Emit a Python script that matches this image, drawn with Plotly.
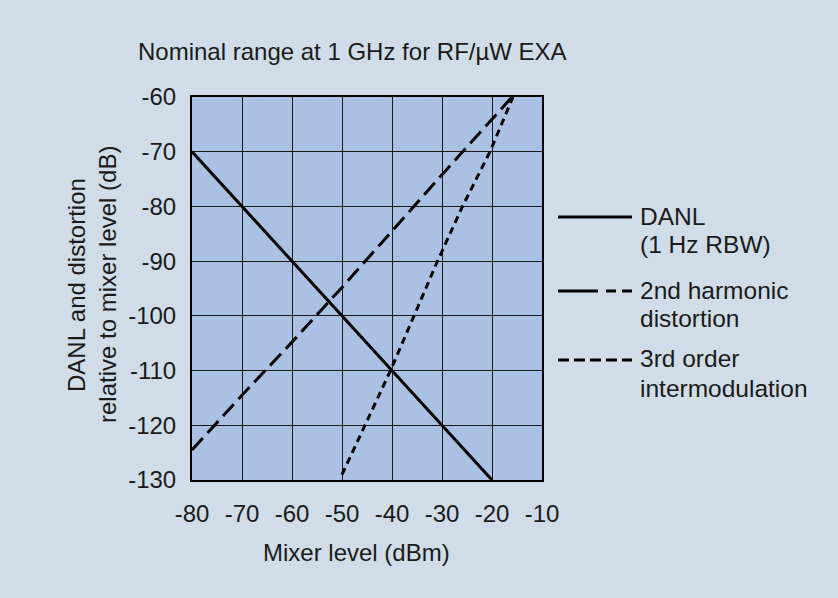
import plotly.graph_objects as go

# ---- data ----
x_tick_vals = [-80, -70, -60, -50, -40, -30, -20, -10]
y_tick_vals = [-60, -70, -80, -90, -100, -110, -120, -130]

danl_x = [-80, -20]
danl_y = [-70, -130]

harm2_x = [-80, -70, -60, -50, -40, -30, -16]
harm2_y = [-124.5, -114.5, -104.8, -94.8, -84.5, -74.2, -60]

im3_x = [-50, -40.3, -30.9, -25.9, -20.4, -15.8]
im3_y = [-129, -110, -90, -80, -70, -60]

legend_labels = [["DANL", "(1 Hz RBW)"],
                 ["2nd harmonic", "distortion"],
                 ["3rd order", "intermodulation"]]

title_text = "Nominal range at 1 GHz for RF/µW EXA"
x_title = "Mixer level (dBm)"
y_title = ["DANL and distortion", "relative to mixer level (dB)"]

# ---- layout geometry (pixels) ----
W, H = 838, 598
L, R, T, B = 192, 542, 97, 480
PW, PH = R - L, B - T

def px(x):
    return (x - L) / PW

def py(y):
    return (B - y) / PH

FONT = "Liberation Sans, Arial, sans-serif"
TXT = "#1a1a1a"
BG = "#D0DDE8"
LW = 3

fig = go.Figure()
fig.add_trace(go.Scatter(x=danl_x, y=danl_y, mode="lines",
                         line=dict(color="black", width=LW), showlegend=False))
fig.add_trace(go.Scatter(x=harm2_x, y=harm2_y, mode="lines",
                         line=dict(color="black", width=LW, dash="16px,7px"), showlegend=False))
fig.add_trace(go.Scatter(x=im3_x, y=im3_y, mode="lines",
                         line=dict(color="black", width=LW, dash="7px,5px"), showlegend=False))

shapes = []
# legend keys
shapes.append(dict(type="line", xref="paper", yref="paper",
                   x0=px(558), x1=px(632), y0=py(217), y1=py(217),
                   line=dict(color="black", width=LW)))
shapes.append(dict(type="line", xref="paper", yref="paper",
                   x0=px(558), x1=px(598), y0=py(291), y1=py(291),
                   line=dict(color="black", width=LW)))
shapes.append(dict(type="line", xref="paper", yref="paper",
                   x0=px(606), x1=px(632), y0=py(291), y1=py(291),
                   line=dict(color="black", width=LW, dash="10px,6px")))
shapes.append(dict(type="line", xref="paper", yref="paper",
                   x0=px(558), x1=px(632), y0=py(360), y1=py(360),
                   line=dict(color="black", width=LW, dash="11px,5px")))

annotations = []
leg_rows = [(216, 244), (290, 318), (358, 388)]
for (l1, l2), (y1, y2) in zip(legend_labels, leg_rows):
    for t, yy in ((l1, y1), (l2, y2)):
        annotations.append(dict(text=t, xref="paper", yref="paper",
                                x=px(638), y=py(yy), xanchor="left", yanchor="middle",
                                showarrow=False, font=dict(family=FONT, size=24.5, color=TXT)))

annotations.append(dict(text=title_text, xref="paper", yref="paper",
                        x=px(136), y=py(52), xanchor="left", yanchor="middle",
                        showarrow=False, font=dict(family=FONT, size=24, color=TXT)))
annotations.append(dict(text=x_title, xref="paper", yref="paper",
                        x=px(356), y=py(552), xanchor="center", yanchor="middle",
                        showarrow=False, font=dict(family=FONT, size=24, color=TXT)))
annotations.append(dict(text=y_title[0], xref="paper", yref="paper",
                        x=px(76), y=py(285), xanchor="center", yanchor="middle",
                        textangle=-90, showarrow=False,
                        font=dict(family=FONT, size=24, color=TXT)))
annotations.append(dict(text=y_title[1], xref="paper", yref="paper",
                        x=px(107), y=py(285), xanchor="center", yanchor="middle",
                        textangle=-90, showarrow=False,
                        font=dict(family=FONT, size=24, color=TXT)))

fig.update_layout(
    width=W, height=H, autosize=False,
    margin=dict(l=L, r=W - R, t=T, b=H - B, pad=0),
    paper_bgcolor=BG,
    plot_bgcolor="#ABC1E3",
    shapes=shapes,
    annotations=annotations,
    showlegend=False,
)
fig.update_xaxes(range=[-80, -10], tickvals=x_tick_vals,
                 ticktext=[str(v) for v in x_tick_vals],
                 showgrid=True, gridcolor="#1a1a1a", gridwidth=1,
                 showline=True, linecolor="black", linewidth=2, mirror=True,
                 zeroline=False, ticks="", ticklabelstandoff=11,
                 tickfont=dict(family=FONT, size=24, color=TXT))
fig.update_yaxes(range=[-130, -60], tickvals=y_tick_vals,
                 ticktext=[str(v) for v in y_tick_vals],
                 showgrid=True, gridcolor="#1a1a1a", gridwidth=1,
                 showline=True, linecolor="black", linewidth=2, mirror=True,
                 zeroline=False, ticks="", ticklabelstandoff=9,
                 tickfont=dict(family=FONT, size=24, color=TXT))

fig.write_html("out.html",
               config={"displayModeBar": False},
               post_script="document.body.style.margin='0';"
                           "document.body.style.background='" + BG + "';")
